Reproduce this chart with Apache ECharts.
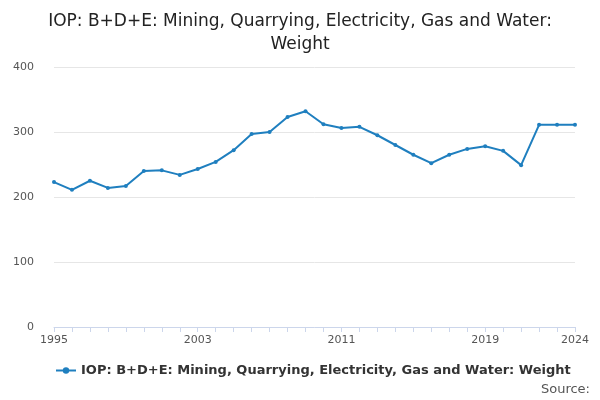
<!DOCTYPE html>
<html><head><meta charset="utf-8">
<script src="https://cdn.jsdelivr.net/npm/echarts@6/dist/echarts.min.js"></script>
<style>html,body{margin:0;padding:0}#main{width:600px;height:400px}</style>
</head><body><div id="main"></div>
<script>
var years = [];
for (var y = 1995; y <= 2024; y++) years.push(String(y));
var weights = [223, 211, 225, 214, 217, 240, 241, 234, 243, 254, 272, 297, 300, 323, 332,
  312, 306, 308, 295, 280, 265, 252, 265, 274, 278, 271, 249, 311, 311, 311];
var shownLabels = ['1995', '2003', '2011', '2019', '2024'];
var seriesName = 'IOP: B+D+E: Mining, Quarrying, Electricity, Gas and Water: Weight';

var myChart = echarts.init(document.getElementById('main'));
myChart.setOption({
  title: {
    text: 'IOP: B+D+E: Mining, Quarrying, Electricity, Gas and Water:\nWeight',
    left: 'center', top: 5,
    textStyle: { fontFamily: 'DejaVu Sans', fontWeight: 'normal', fontSize: 17, color: '#222', lineHeight: 23 }
  },
  legend: {
    bottom: 18, left: 50,
    data: [seriesName],
    itemWidth: 20, itemHeight: 8,
    textStyle: { fontFamily: 'DejaVu Sans', fontSize: 13, fontWeight: 'bold', color: '#333' }
  },
  graphic: [{ type: 'text', right: 10, bottom: 4, style: { text: 'Source:', font: '13px DejaVu Sans', fill: '#555' } }],
  grid: { left: 54, right: 25, top: 67, bottom: 73 },
  xAxis: {
    type: 'category', boundaryGap: false, data: years,
    axisLine: { lineStyle: { color: '#ccd6eb' } },
    axisTick: { alignWithLabel: true, interval: 0, lineStyle: { color: '#ccd6eb' } },
    axisLabel: {
      interval: function (i, v) { return shownLabels.indexOf(v) >= 0; },
      color: '#555', fontFamily: 'DejaVu Sans', fontSize: 11
    }
  },
  yAxis: {
    type: 'value', min: 0, max: 400, interval: 100,
    axisLabel: { color: '#555', fontFamily: 'DejaVu Sans', fontSize: 11, margin: 20 },
    splitLine: { lineStyle: { color: '#e6e6e6' } }
  },
  series: [{
    name: seriesName, type: 'line', data: weights,
    color: '#1f7fbf', symbol: 'circle', symbolSize: 4,
    lineStyle: { width: 2 }
  }]
});
</script></body></html>
